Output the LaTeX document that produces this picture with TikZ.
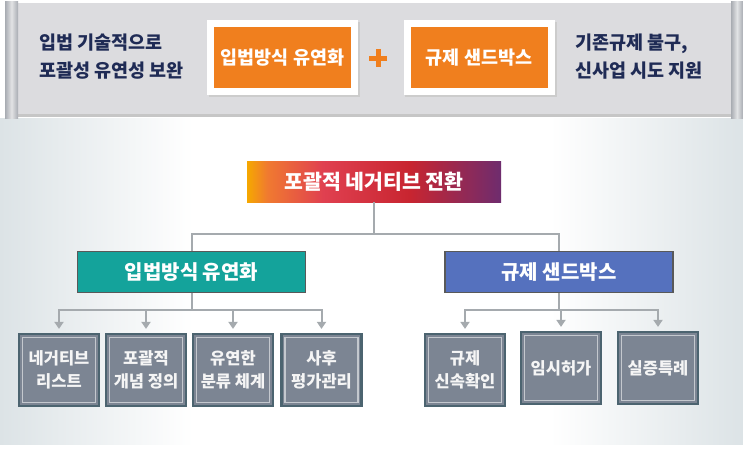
\documentclass[tikz,border=0pt]{standalone}
\usepackage{fontspec}
\setmainfont{Noto Sans CJK KR}
\usetikzlibrary{arrows.meta}
\definecolor{navy}{HTML}{1F2B55}
\definecolor{orng}{HTML}{F07F1E}
\definecolor{panel}{HTML}{DCDCDF}
\definecolor{tealc}{HTML}{14A39B}
\definecolor{bluec}{HTML}{5571BE}
\definecolor{grayb}{HTML}{7C8593}
\definecolor{grayedge}{HTML}{4C6470}
\definecolor{conn}{HTML}{A5AAAE}
\definecolor{bgE}{HTML}{DCE3E6}
\definecolor{cA}{HTML}{F5A800}
\definecolor{cB}{HTML}{F07A30}
\definecolor{cC}{HTML}{E04050}
\definecolor{cD}{HTML}{C82530}
\definecolor{cE}{HTML}{6E2C6E}
\definecolor{rollA}{HTML}{A8ACB2}
\definecolor{rollB}{HTML}{E2E3E5}
\pgfdeclarehorizontalshading{negshade}{100bp}{color(0bp)=(cA); color(25bp)=(cA); color(29bp)=(cB); color(40bp)=(cC); color(57bp)=(cD); color(75bp)=(cE); color(100bp)=(cE)}
\pgfdeclarehorizontalshading{bgshade}{100bp}{color(0bp)=(bgE); color(25bp)=(bgE); color(38bp)=(white); color(62bp)=(white); color(75bp)=(bgE); color(100bp)=(bgE)}
\pgfdeclarehorizontalshading{rollshade}{100bp}{color(0bp)=(rollA); color(25bp)=(rollA); color(50bp)=(rollB); color(75bp)=(rollA); color(100bp)=(rollA)}
\tikzset{
  obox/.style={fill=orng, draw=white, line width=7pt, minimum width=144pt, minimum height=68pt,
    text=white, font=\bfseries\fontsize{18.5}{20}\selectfont, inner sep=0pt},
  bantext/.style={anchor=west, align=left, text=navy, font=\bfseries\fontsize{18.5}{28}\selectfont, inner sep=0pt},
  headbox/.style={minimum width=228pt, minimum height=41pt, text=white, draw=gray!70!black, line width=1.2pt,
    font=\bfseries\fontsize{20}{22}\selectfont, inner sep=0pt},
  gbox/.style={fill=grayb, draw=grayedge, line width=2.2pt, minimum width=80pt, minimum height=72pt,
    text=white!92!gray, align=center, inner sep=0pt, font=\bfseries\fontsize{16.5}{23}\selectfont,
    path picture={\draw[white!55!grayb, line width=1.2pt]
      ([shift={(3.5pt,-3.5pt)}]path picture bounding box.north west) rectangle
      ([shift={(-3.5pt,3.5pt)}]path picture bounding box.south east);}},
  conn/.style={draw=conn, line width=2pt},
  arr/.style={conn, -{Triangle[width=9pt,length=7pt]}, shorten >=4pt}
}
\begin{document}
\begin{tikzpicture}[x=1pt,y=-1pt]
\useasboundingbox (0,0) rectangle (743,452);
\fill[white] (0,0) rectangle (743,452);
% lower background
\shade[shading=bgshade] (0,118) rectangle (743,444);
% banner
\fill[panel] (8,3) rectangle (738,116);
\fill[gray!45] (8,114) rectangle (738,117);
\shade[shading=rollshade] (5,2) rectangle (18,118);
\shade[shading=rollshade] (731,2) rectangle (743,118);
\node[bantext] (lt) at (39,57) {입법 기술적으로\\포괄성 유연성 보완};
\node[bantext] (rt) at (575,57) {기존규제 불구,\\신사업 시도 지원};
\fill[gray!40] (209,22) rectangle (360,97);
\fill[gray!40] (405,22) rectangle (557,97);
\node[obox] (ob1) at (282.5,57.5) {입법방식 유연화};
\node[obox] (ob2) at (479,57.5) {규제 샌드박스};
\draw[orng, line width=5pt] (369,58) -- (387,58) (378,49) -- (378,67);
% top node
\fill[white] (247,147) rectangle (501,212);
\node[shading=negshade, minimum width=254pt, minimum height=41pt, text=white,
  font=\bfseries\fontsize{20.5}{22}\selectfont, inner sep=0pt] (top) at (374,181.5) {포괄적 네거티브 전환};
\node[headbox, fill=tealc] (tl) at (191.5,272) {입법방식 유연화};
\node[headbox, fill=bluec] (bl) at (559,272) {규제 샌드박스};
\draw[conn] (top.south) -- ++(0,32) coordinate (bus);
\draw[conn] (tl.north) |- (bus) -| (bl.north);
% gray boxes
\node[gbox] (g1) at (59,370) {네거티브\\리스트};
\node[gbox] (g2) at (146,370) {포괄적\\개념 정의};
\node[gbox] (g3) at (233,370) {유연한\\분류 체계};
\node[gbox] (g4) at (321.5,370) {사후\\평가관리};
\node[gbox] (g5) at (465,370) {규제\\신속확인};
\node[gbox] (g6) at (561,368) {임시허가};
\node[gbox] (g7) at (658,368) {실증특례};
\draw[conn] (tl.south) -- ++(0,17) coordinate (lbus);
\draw[conn] (bl.south) -- ++(0,17) coordinate (rbus);
\foreach \g in {g1,g2,g3,g4} \draw[arr] (lbus) -| (\g.north);
\foreach \g in {g5,g6,g7} \draw[arr] (rbus) -| (\g.north);
\end{tikzpicture}
\end{document}
